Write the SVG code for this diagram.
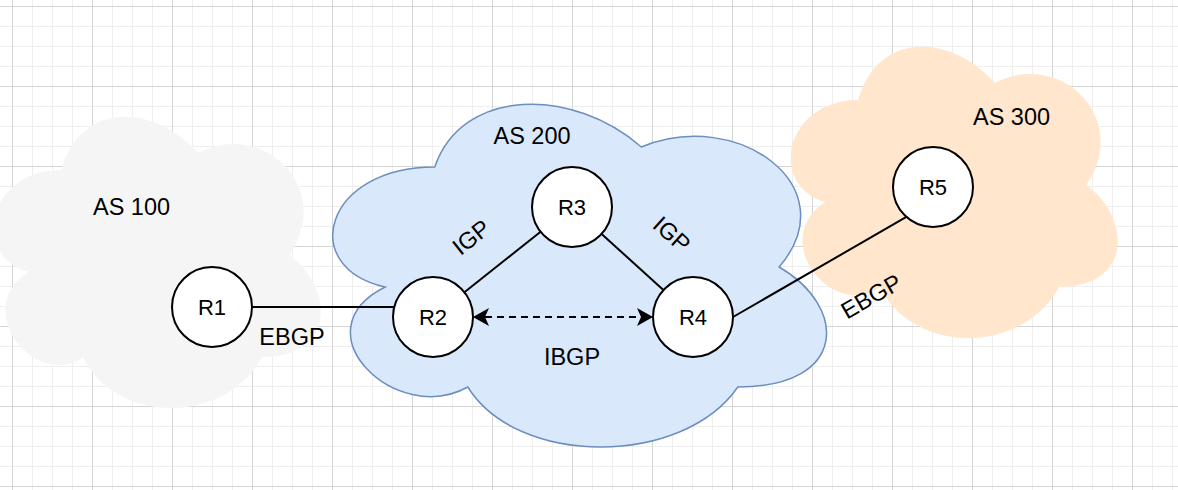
<svg xmlns="http://www.w3.org/2000/svg" width="1178" height="490" viewBox="0 0 1178 490">
  <style>
    .lbl { font-family: "Liberation Sans", Arial, Helvetica, sans-serif; fill: #000; text-anchor: middle; }
    .as { font-size: 23.5px; }
    .edge-lbl { font-size: 23.5px; }
    .node-lbl { font-size: 22px; }
    .router { fill: #ffffff; stroke: #000; stroke-width: 2; }
    .link { stroke: #000; stroke-width: 2; fill: none; }
    .ibgp { stroke: #000; stroke-width: 2; fill: none; stroke-dasharray: 7 5; }
  </style>
  <defs>
    <pattern id="gridMinor" x="12" y="6" width="20" height="20" patternUnits="userSpaceOnUse">
      <path d="M0.5 0 V20 M0 0.5 H20" stroke="#eeeeee" stroke-width="1" fill="none"/>
    </pattern>
    <pattern id="gridMajor" x="12" y="6" width="80" height="80" patternUnits="userSpaceOnUse">
      <path d="M0.5 0 V80 M0 0.5 H80" stroke="#d5d5d5" stroke-width="1" fill="none"/>
    </pattern>
    <marker id="arrow" viewBox="0 0 16 18" refX="4" refY="9" markerWidth="16" markerHeight="18" markerUnits="userSpaceOnUse" orient="auto-start-reverse">
      <path d="M0,0 L16,9 L0,18 L4,9 Z" fill="#000"/>
    </marker>
  </defs>

  <rect width="1178" height="490" fill="#ffffff"/>
  <rect width="1178" height="490" fill="url(#gridMinor)"/>
  <rect width="1178" height="490" fill="url(#gridMajor)"/>

  <g id="as100">
    <path fill="#f5f5f5" d="M61.25,170 C-11.75,170 -30,255 28.4,272 C-30,309.4 35.7,391 83.15,357 C116,425 225.5,425 262,357 C335,357 335,289 289.375,255 C335,187 262,119 198.125,153 C152.5,102 79.5,102 61.25,170 Z"/>
    <text class="lbl as" x="131.5" y="215">AS 100</text>
  </g>

  <g id="as300">
    <path fill="#ffe6cc" d="M858.25,100 C785.25,100 767,185 825.4,202 C767,239.4 832.7,321 880.15,287 C913,355 1022.5,355 1059,287 C1132,287 1132,219 1086.375,185 C1132,117 1059,49 995.125,83 C949.5,32 876.5,32 858.25,100 Z"/>
    <text class="lbl as" x="1011.5" y="125">AS 300</text>
  </g>

  <g id="as200">
    <path fill="#dae8fc" stroke="#6c8ebf" stroke-width="1.5" d="M434.75,167 C324.55,167 297,267 385.16,287 C297,331 396.18,427 467.81,387 C517.4,467 682.7,467 737.8,387 C848,387 848,307 779.125,267 C848,187 737.8,107 641.375,147 C572.5,87 462.3,87 434.75,167 Z"/>
    <text class="lbl as" x="532" y="144">AS 200</text>
  </g>

  <g id="connectors">
    <line class="link" x1="252" y1="307" x2="394" y2="307"/>
    <line class="link" x1="464.4" y1="292.2" x2="540.6" y2="231.8"/>
    <line class="link" x1="601.6" y1="233.9" x2="663.4" y2="290.1"/>
    <line class="link" x1="733" y1="317" x2="906.4" y2="216.9"/>
    <line class="ibgp" x1="485" y1="317" x2="641" y2="317" marker-start="url(#arrow)" marker-end="url(#arrow)"/>
    <text class="lbl edge-lbl" x="292" y="345">EBGP</text>
    <text class="lbl edge-lbl" x="572" y="365">IBGP</text>
    <text class="lbl edge-lbl" x="471" y="245.5" transform="rotate(-38.4 471 237)">IGP</text>
    <text class="lbl edge-lbl" x="672" y="242.5" transform="rotate(42.3 672 234)">IGP</text>
    <text class="lbl edge-lbl" x="871" y="304.5" transform="rotate(-30 871 296)">EBGP</text>
  </g>

  <g id="R1">
    <circle class="router" cx="212" cy="307" r="40"/>
    <text class="lbl node-lbl" x="212" y="314.9">R1</text>
  </g>
  <g id="R2">
    <circle class="router" cx="433" cy="317" r="40"/>
    <text class="lbl node-lbl" x="433" y="324.9">R2</text>
  </g>
  <g id="R3">
    <circle class="router" cx="572" cy="207" r="40"/>
    <text class="lbl node-lbl" x="572" y="214.9">R3</text>
  </g>
  <g id="R4">
    <circle class="router" cx="693" cy="317" r="40"/>
    <text class="lbl node-lbl" x="693" y="324.9">R4</text>
  </g>
  <g id="R5">
    <circle class="router" cx="933" cy="187" r="40"/>
    <text class="lbl node-lbl" x="933" y="194.9">R5</text>
  </g>
</svg>
